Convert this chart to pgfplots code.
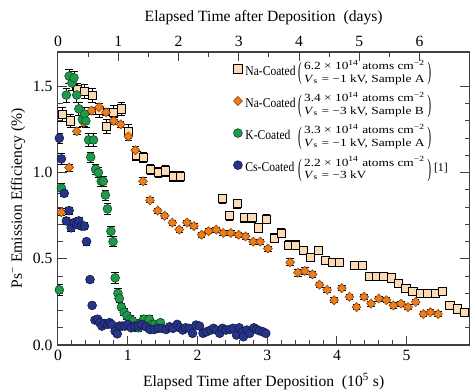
\documentclass[border=0pt]{standalone}
\usepackage{fontspec}
\setmainfont{Liberation Serif}
\usepackage{graphicx}
\usepackage{pgfplots}
\pgfplotsset{compat=1.18}
\usepackage{pgfplotstable}
\definecolor{naA}{HTML}{FCDAB6}
\definecolor{naB}{HTML}{EE7D1C}
\definecolor{kc}{HTML}{1F9A4B}
\definecolor{csc}{HTML}{26358A}
\definecolor{axcol}{HTML}{404040}

\pgfplotstableread{
x y e
0.06 1.34 0.04
0.18 1.30 0.04
0.28 1.48 0.04
0.38 1.47 0.04
0.49 1.45 0.04
0.59 1.36 0.04
0.70 1.27 0.04
0.80 1.35 0.04
0.91 1.37 0.04
1.01 1.24 0.04
1.12 1.10 0.03
1.22 1.09 0.03
1.33 1.02 0.03
1.44 1.00 0.03
1.54 1.01 0.03
1.65 0.98 0.03
1.75 0.98 0.03
2.36 0.85 0.026
2.46 0.75 0.026
2.57 0.82 0.026
2.67 0.74 0.026
2.78 0.74 0.026
2.88 0.68 0.026
2.99 0.73 0.026
3.10 0.62 0.025
3.20 0.65 0.025
3.31 0.58 0.025
3.41 0.58 0.025
3.52 0.55 0.025
3.62 0.51 0.022
3.73 0.55 0.022
3.83 0.49 0.022
3.94 0.48 0.02
4.04 0.48 0.02
4.25 0.46 0.02
4.36 0.46 0.02
4.46 0.40 0.018
4.57 0.40 0.018
4.67 0.40 0.018
4.78 0.39 0.018
4.88 0.36 0.018
4.99 0.33 0.015
5.09 0.31 0.015
5.20 0.30 0.015
5.30 0.30 0.015
5.41 0.30 0.015
5.51 0.31 0.015
5.62 0.23 0.012
5.73 0.21 0.012
5.83 0.19 0.012
}\naAtab

\pgfplotstableread{
x y e
0.05 0.77 0.02
0.16 1.03 0.02
0.27 1.24 0.02
0.37 1.29 0.02
0.48 1.36 0.02
0.59 1.38 0.02
0.69 1.35 0.02
0.80 1.30 0.02
0.90 1.28 0.02
1.01 1.21 0.02
1.11 1.13 0.02
1.22 0.95 0.02
1.32 0.84 0.015
1.43 0.78 0.015
1.53 0.75 0.015
1.64 0.71 0.015
1.74 0.67 0.015
1.85 0.71 0.015
1.95 0.69 0.015
2.06 0.64 0.015
2.16 0.66 0.015
2.27 0.67 0.015
2.37 0.65 0.015
2.48 0.65 0.015
2.59 0.64 0.015
2.69 0.63 0.015
2.80 0.60 0.015
2.90 0.60 0.015
3.01 0.56 0.015
3.33 0.48 0.02
3.44 0.42 0.02
3.54 0.43 0.02
3.65 0.41 0.02
3.75 0.35 0.015
3.86 0.32 0.015
3.96 0.26 0.015
4.07 0.33 0.015
4.18 0.28 0.015
4.28 0.22 0.015
4.39 0.28 0.015
4.49 0.24 0.015
4.60 0.27 0.015
4.71 0.26 0.015
4.81 0.23 0.015
4.92 0.24 0.015
5.02 0.22 0.015
5.13 0.25 0.015
5.24 0.18 0.015
5.34 0.19 0.015
5.45 0.18 0.015
}\naBtab

\pgfplotstableread{
x y e
0.02 0.32 0.03
0.05 0.91 0.03
0.12 1.45 0.04
0.16 1.56 0.04
0.20 1.52 0.04
0.23 1.55 0.04
0.27 1.45 0.04
0.30 1.37 0.04
0.35 1.31 0.04
0.38 1.34 0.04
0.40 1.30 0.04
0.44 1.19 0.04
0.47 1.09 0.03
0.51 1.19 0.04
0.54 1.02 0.03
0.58 1.00 0.03
0.62 0.95 0.03
0.65 0.95 0.03
0.68 0.87 0.03
0.71 0.79 0.03
0.76 0.66 0.03
0.79 0.60 0.03
0.82 0.39 0.03
0.86 0.30 0.03
0.88 0.27 0.02
0.91 0.22 0.02
0.95 0.19 0.02
0.99 0.17 0.02
1.03 0.15 0.02
1.07 0.14 0.02
1.11 0.11 0.02
1.15 0.10 0.02
1.19 0.13 0.02
1.23 0.15 0.02
1.27 0.12 0.02
1.31 0.15 0.02
1.35 0.12 0.02
1.39 0.12 0.02
1.43 0.11 0.02
1.47 0.13 0.02
}\Ktab

\pgfplotstableread{
x y e
0.02 1.20 0.03
0.05 1.08 0.03
0.09 0.88 0.02
0.12 0.72 0.02
0.16 0.78 0.02
0.19 0.68 0.02
0.23 0.71 0.02
0.27 0.70 0.02
0.30 0.72 0.02
0.34 0.69 0.02
0.38 0.69 0.02
0.41 0.60 0.02
0.46 0.38 0.015
0.49 0.23 0.0
0.53 0.145 0.0
0.57 0.15 0.0
0.60 0.13 0.0
0.63 0.11 0.0
0.67 0.125 0.0
0.71 0.12 0.0
0.74 0.13 0.0
0.77 0.12 0.0
0.82 0.08 0.0
0.85 0.065 0.0
0.88 0.11 0.0
0.92 0.11 0.0
0.96 0.11 0.0
1.00 0.12 0.0
1.05 0.10 0.0
1.10 0.11 0.0
1.15 0.11 0.0
1.20 0.12 0.0
1.26 0.106 0.0
1.32 0.09 0.0
1.38 0.09 0.0
1.44 0.097 0.0
1.49 0.097 0.0
1.55 0.09 0.0
1.60 0.106 0.0
1.65 0.097 0.0
1.71 0.12 0.0
1.75 0.10 0.0
1.79 0.087 0.0
1.83 0.10 0.0
1.88 0.097 0.0
1.93 0.068 0.0
1.98 0.116 0.0
2.03 0.11 0.0
2.08 0.068 0.0
2.13 0.077 0.0
2.19 0.087 0.0
2.23 0.097 0.0
2.27 0.087 0.0
2.32 0.068 0.0
2.36 0.097 0.0
2.41 0.087 0.0
2.46 0.09 0.0
2.51 0.097 0.0
2.56 0.058 0.0
2.60 0.10 0.0
2.65 0.077 0.0
2.66 0.048 0.0
2.71 0.087 0.0
2.75 0.068 0.0
2.81 0.10 0.0
2.85 0.09 0.0
2.89 0.083 0.0
2.94 0.077 0.0
2.98 0.068 0.0
}\Cstab

\newcommand{\lparen}{\raisebox{-2.8bp}{\scalebox{0.9}[2.1]{(}}\hspace{1.6bp}}
\newcommand{\rparen}{\hspace{1.6bp}\raisebox{-2.8bp}{\scalebox{0.9}[2.1]{)}}}
\newcommand{\lgsub}[2]{\lparen\scalebox{1.22}[1]{\fontsize{7}{7.8}\selectfont\begin{tabular}[c]{@{}l@{}}#1\\#2\end{tabular}}\rparen}
\newcommand{\lgname}[1]{\makebox[33.5bp][l]{\scalebox{0.86}[1]{\fontsize{8.6}{9}\selectfont #1}}}

\begin{document}
\begin{tikzpicture}
\path[use as bounding box] (-36.9bp,-28bp) rectangle (263bp,219.7bp);
\begin{axis}[
  scale only axis, width=262bp, height=186.6bp,
  xmin=0, xmax=5.9, ymin=0, ymax=1.70,
  xtick={0,1,2,3,4,5}, minor x tick num=4,
  ytick={0,0.5,1.0,1.5}, minor y tick num=4,
  xtick pos=lower, ytick pos=both,
  tick align=inside,
  major tick length=6bp, minor tick length=3bp,
  axis line style={axcol, line width=0.7pt},
  every tick/.style={axcol, line width=0.6pt},
  yticklabel style={/pgf/number format/.cd, fixed, fixed zerofill, precision=1},
  /pgf/number format/assume math mode=true,
  tick label style={font=\fontsize{10}{12}\selectfont},
  label style={font=\fontsize{10}{12}\selectfont},
  xlabel={Elapsed Time after Deposition\ \ (10\textsuperscript{5} s)},
  ylabel={Ps\textsuperscript{−} Emission Efficiency (\%)},
  xlabel style={yshift=-1bp},
  ylabel style={yshift=-2bp},
  legend style={draw=none, fill=none, at={(0.422,0.99)}, anchor=north west,
    font=\fontsize{7.6}{9}\selectfont, row sep=5bp, inner sep=1bp},
  legend cell align=left,
  error bars/y dir=both, error bars/y explicit,
  error bars/error bar style={black, line width=0.5pt},
  error bars/error mark options={rotate=90, mark size=2.4bp, black, line width=0.5pt},
]
\addplot[only marks, mark=square*, mark size=2.6bp, mark options={fill=naA, draw=black, line width=0.5pt}]
  table[x=x, y=y, y error=e] {\naAtab};
\addlegendentry{\lgname{Na-Coated}\lgsub{6.2 × 10\textsuperscript{14} atoms cm\textsuperscript{−2}}{\textit{V}\textsubscript{s} = −1 kV, Sample A}}
\addplot[only marks, mark=diamond*, mark size=2.9bp, mark options={xscale=1.3, fill=naB, draw=naB!60!black, line width=0.4pt}]
  table[x=x, y=y, y error=e] {\naBtab};
\addlegendentry{\lgname{Na-Coated}\lgsub{3.4 × 10\textsuperscript{14} atoms cm\textsuperscript{−2}}{\textit{V}\textsubscript{s} = −3 kV, Sample B}}
\addplot[only marks, mark=*, mark size=2.8bp, mark options={fill=kc, draw=kc!50!black, line width=0.4pt}]
  table[x=x, y=y, y error=e] {\Ktab};
\addlegendentry{\lgname{K-Coated}\lgsub{3.3 × 10\textsuperscript{14} atoms cm\textsuperscript{−2}}{\textit{V}\textsubscript{s} = −1 kV, Sample A}}
\addplot[only marks, mark=*, mark size=2.8bp, mark options={fill=csc, draw=csc!50!black, line width=0.4pt}]
  table[x=x, y=y, y error=e] {\Cstab};
\addlegendentry{\lgname{Cs-Coated}\lgsub{2.2 × 10\textsuperscript{14} atoms cm\textsuperscript{−2}}{\textit{V}\textsubscript{s} = −3 kV}\ [1]}
\end{axis}
\begin{axis}[
  scale only axis, width=262bp, height=186.6bp,
  xmin=0, xmax=6.829, ymin=0, ymax=1.70,
  axis x line*=top, hide y axis,
  xtick={0,1,2,3,4,5,6}, minor x tick num=1,
  tick align=inside,
  major tick length=6bp, minor tick length=3bp,
  axis line style={axcol, line width=0.7pt},
  every tick/.style={axcol, line width=0.6pt},
  /pgf/number format/assume math mode=true,
  tick label style={font=\fontsize{10}{12}\selectfont},
  label style={font=\fontsize{10}{12}\selectfont},
  xlabel={Elapsed Time after Deposition\ \ (days)},
]
\end{axis}
\end{tikzpicture}
\end{document}
